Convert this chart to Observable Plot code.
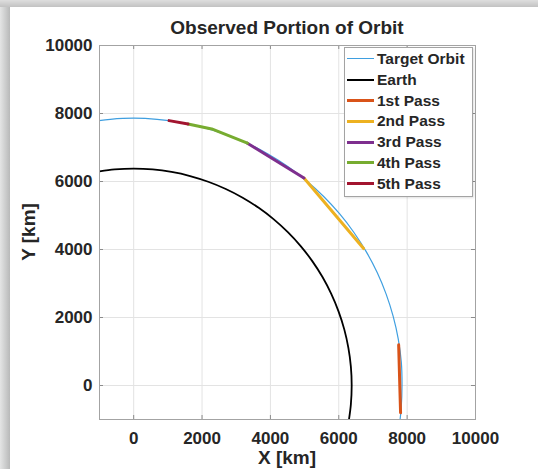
<!DOCTYPE html>
<html>
<head>
<meta charset="utf-8">
<script src="https://cdn.jsdelivr.net/npm/d3@7"></script>
<script src="https://cdn.jsdelivr.net/npm/@observablehq/plot@0.6"></script>
<style>
  body { margin: 0; background: #fff; }
  #wrap { position: relative; width: 538px; height: 469px; overflow: hidden;
          font-family: "Liberation Sans", Arial, Helvetica, sans-serif; font-weight: bold; color: #262626; }
  .shadowL { position: absolute; left: 0; top: 0; width: 10px; height: 469px;
             background: linear-gradient(to right, #e4e5e5, #b8b9b9); }
  .shadowT { position: absolute; left: 0; top: 0; width: 538px; height: 7px;
             background: linear-gradient(to bottom, #dedede, #c2c2c2); }
  #chart { position: absolute; left: 0; top: 0; }
  .title { position: absolute; left: 0; width: 574px; top: 17px; text-align: center; font-size: 19px; line-height: normal; white-space: nowrap; }
  .xlabel { position: absolute; left: 0; width: 574px; top: 447px; text-align: center; font-size: 19px; line-height: normal; white-space: nowrap; }
  .ylabel { position: absolute; left: 29.4px; top: 232px; font-size: 19px; line-height: normal; white-space: nowrap;
            transform: translate(-50%, -50%) rotate(-90deg); }
  .legend { position: absolute; left: 344px; top: 47px; width: 127px; height: 147px; background: #fff;
            border: 1px solid #a3a3a3; box-shadow: 1px 1px 2px rgba(0,0,0,0.12); padding-top: 1px; box-sizing: content-box; }
  .row { height: 20.8px; line-height: 20.8px; font-size: 15.5px; white-space: nowrap; }
  .sw { display: inline-block; width: 27px; margin-left: 2px; margin-right: 3px; vertical-align: middle; position: relative; top: -1px; }
</style>
</head>
<body>
<div id="wrap">
  <div class="shadowL"></div>
  <div class="shadowT"></div>
  <div id="chart"></div>
</div>
<script>
// ---- Data (km) ----
const orbitX = [-1026, -685, 0, 685, 1365, 2034, 2688, 3322, 3930, 4508, 5052, 5558, 6021, 6439, 6807, 7124, 7386, 7592, 7741, 7830, 7850, 7825, 7790];
const orbitY = [7792, 7830, 7862, 7830, 7741, 7592, 7386, 7124, 6807, 6439, 6021, 5558, 5052, 4508, 3930, 3322, 2688, 2034, 1365, 685, 0, -685, -1030];

const earthX = [-998, -556, 0, 556, 1107, 1651, 2181, 2695, 3189, 3658, 4100, 4510, 4886, 5225, 5524, 5780, 5993, 6161, 6281, 6354, 6378, 6354, 6299];
const earthY = [6299, 6354, 6378, 6354, 6281, 6161, 5993, 5780, 5524, 5225, 4886, 4510, 4100, 3658, 3189, 2695, 2181, 1651, 1107, 556, 0, -556, -998];

const pass1X = [7752, 7808];
const pass1Y = [1195, -800];
const pass2X = [4981, 6726];
const pass2Y = [6103, 4028];
const pass3X = [3327, 4981];
const pass3Y = [7127, 6103];
const pass4X = [1590, 2283, 3327];
const pass4Y = [7691, 7545, 7127];
const pass5X = [1035, 1590];
const pass5Y = [7790, 7691];

const seriesNames = ["Target Orbit", "Earth", "1st Pass", "2nd Pass", "3rd Pass", "4th Pass", "5th Pass"];
const seriesColors = ["#3f9fe0", "#000000", "#D95319", "#EDB120", "#7E2F8E", "#77AC30", "#A2142F"];
const seriesWidths = [1.2, 1.8, 3, 3, 3, 3, 3];

const xTicks = [0, 2000, 4000, 6000, 8000, 10000];
const yTicks = [0, 2000, 4000, 6000, 8000, 10000];
const xDomain = [-1000, 10000];
const yDomain = [-1000, 10000];

const titleText = "Observed Portion of Orbit";
const xLabelText = "X [km]";
const yLabelText = "Y [km]";

// ---- Build tables ----
const toRows = (xs, ys) => xs.map((x, i) => ({x, y: ys[i]}));
const orbit = toRows(orbitX, orbitY);
const earth = toRows(earthX, earthY);
const passes = [toRows(pass1X, pass1Y), toRows(pass2X, pass2Y), toRows(pass3X, pass3Y), toRows(pass4X, pass4Y), toRows(pass5X, pass5Y)];

const W = 538, H = 469;
const mL = 99, mR = 63, mT = 45, mB = 50;
const frameW = W - mL - mR, frameH = H - mT - mB;
const tickLen = 4;

const plot = Plot.plot({
  width: W,
  height: H,
  marginLeft: mL,
  marginRight: mR,
  marginTop: mT,
  marginBottom: mB,
  x: {domain: xDomain, ticks: xTicks},
  y: {domain: yDomain, ticks: yTicks},
  style: {
    background: "transparent",
    fontFamily: "'Liberation Sans', Arial, Helvetica, sans-serif",
    fontWeight: "bold",
    fontSize: "17px",
    color: "#262626",
    overflow: "visible"
  },
  marks: [
    Plot.gridX(xTicks, {stroke: "#e3e3e3", strokeOpacity: 1}),
    Plot.gridY(yTicks, {stroke: "#e3e3e3", strokeOpacity: 1}),
    Plot.line(orbit, {x: "x", y: "y", stroke: seriesColors[0], strokeWidth: seriesWidths[0], curve: "catmull-rom", clip: true}),
    Plot.line(earth, {x: "x", y: "y", stroke: seriesColors[1], strokeWidth: seriesWidths[1], curve: "catmull-rom", clip: true}),
    ...passes.map((p, i) => Plot.line(p, {x: "x", y: "y", stroke: seriesColors[i + 2], strokeWidth: seriesWidths[i + 2], clip: true})),
    // inner ticks (MATLAB style)
    Plot.tickX(xTicks, {x: d => d, stroke: "#8c8c8c", insetTop: frameH - tickLen}),
    Plot.tickX(xTicks, {x: d => d, stroke: "#8c8c8c", insetBottom: frameH - tickLen}),
    Plot.tickY(yTicks, {y: d => d, stroke: "#8c8c8c", insetRight: frameW - tickLen}),
    Plot.tickY(yTicks, {y: d => d, stroke: "#8c8c8c", insetLeft: frameW - tickLen}),
    Plot.frame({stroke: "#a3a3a3", strokeWidth: 1}),
    Plot.axisX(xTicks, {anchor: "bottom", tickSize: 0, tickPadding: 12, label: null, tickFormat: d => String(d)}),
    Plot.axisY(yTicks, {anchor: "left", tickSize: 0, tickPadding: 7, label: null, tickFormat: d => String(d)})
  ]
});

const chart = document.getElementById("chart");
chart.appendChild(plot);

const wrap = document.getElementById("wrap");
function addDiv(cls, text) {
  const d = document.createElement("div");
  d.className = cls;
  d.textContent = text;
  wrap.appendChild(d);
  return d;
}
addDiv("title", titleText);
addDiv("xlabel", xLabelText);
addDiv("ylabel", yLabelText);

const legend = document.createElement("div");
legend.className = "legend";
seriesNames.forEach((name, i) => {
  const row = document.createElement("div");
  row.className = "row";
  const sw = document.createElement("span");
  sw.className = "sw";
  sw.style.borderTop = `${Math.max(1, Math.round(seriesWidths[i]))}px solid ${seriesColors[i]}`;
  row.appendChild(sw);
  row.appendChild(document.createTextNode(name));
  legend.appendChild(row);
});
wrap.appendChild(legend);
</script>
</body>
</html>
